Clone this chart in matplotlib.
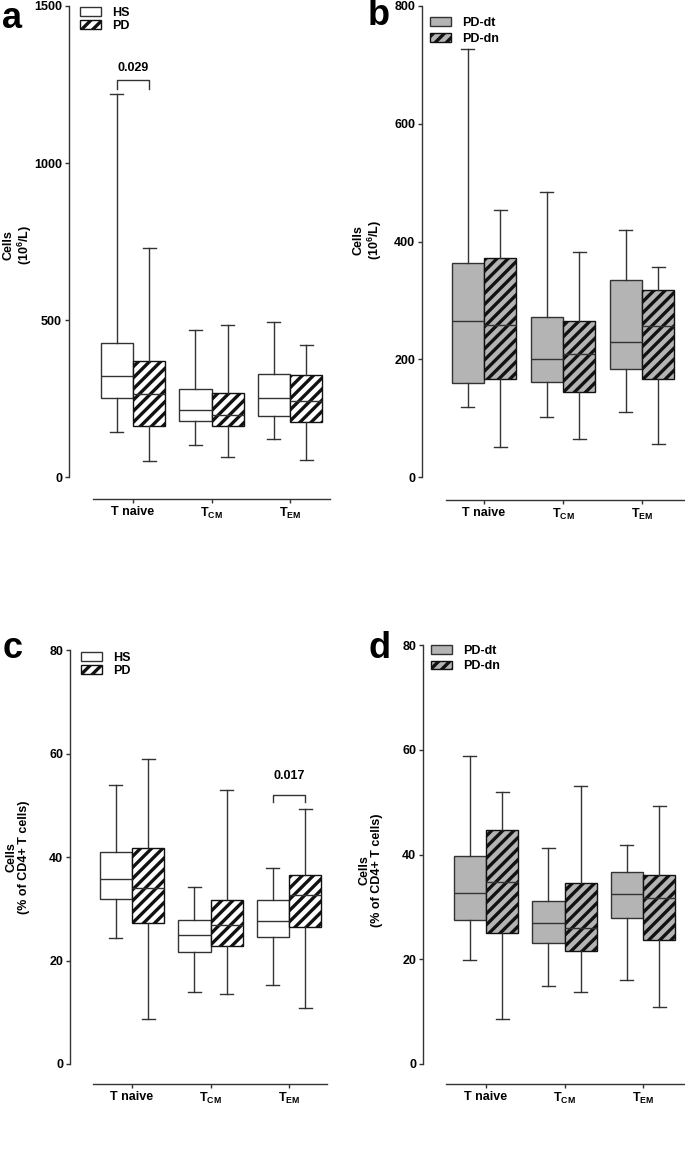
import matplotlib
matplotlib.use("Agg")
import matplotlib.pyplot as plt
from matplotlib.patches import Patch

plt.rcParams['font.family'] = ['Liberation Sans', 'DejaVu Sans']
plt.rcParams['font.weight'] = 'bold'
plt.rcParams['mathtext.fontset'] = 'custom'
plt.rcParams['mathtext.rm'] = 'Liberation Sans:bold'
plt.rcParams['mathtext.bf'] = 'Liberation Sans:bold'
plt.rcParams['mathtext.it'] = 'Liberation Sans:bold'
plt.rcParams['hatch.linewidth'] = 2.4

# --- Data: [whisker low, Q1, median, Q3, whisker high] per category ---
categories = ['T naive', r'$\mathbf{T_{CM}}$', r'$\mathbf{T_{EM}}$']

# panel a: absolute counts (10^6/L)
a_hs = [[142, 251, 322, 426, 1219], [102, 179, 213, 280, 469], [121, 194, 251, 328, 493]]
a_pd = [[50, 161, 265, 371, 728], [64, 161, 199, 269, 484], [55, 175, 243, 325, 420]]
# panel b: absolute counts, PD subgroups
b_dt = [[119, 159, 265, 364, 727], [102, 162, 200, 272, 484], [111, 184, 230, 335, 420]]
b_dn = [[51, 167, 258, 372, 454], [64, 145, 209, 265, 382], [56, 166, 257, 318, 356]]
# panel c: % of CD4+ T cells
c_hs = [[24.3, 31.9, 35.7, 40.9, 53.9], [13.9, 21.6, 25.0, 27.8, 34.2], [15.3, 24.5, 27.7, 31.7, 37.8]]
c_pd = [[8.6, 27.2, 34.0, 41.8, 58.9], [13.6, 22.8, 26.9, 31.7, 53.0], [10.9, 26.4, 32.6, 36.5, 49.3]]
# panel d: % of CD4+ T cells, PD subgroups
d_dt = [[19.9, 27.5, 32.7, 39.7, 58.9], [14.8, 23.1, 26.9, 31.1, 41.2], [16.0, 27.8, 32.5, 36.7, 41.8]]
d_dn = [[8.5, 25.0, 34.7, 44.7, 51.9], [13.7, 21.6, 26.0, 34.6, 53.0], [10.9, 23.6, 31.7, 36.0, 49.3]]

W, H = 685, 1168
fig = plt.figure(figsize=(W / 100, H / 100), dpi=100)

EDGE = '#333333'
HATCH_EDGE = '#111111'
GRAY = '#b4b4b4'
BW = 0.41  # box width in category units
HATCH = '///'


def stats(rows):
    return [dict(whislo=r[0], q1=r[1], med=r[2], q3=r[3], whishi=r[4]) for r in rows]


def make_panel(px, data1, data2, labels, face, ymax, ystep, letter, letter_xy,
               ylabel, ylabel_xy, leg_xy, leg_space, brackets):
    L, R, ticks, p0, p1, bot, spine_x = px
    s = (ticks[2] - ticks[0]) / 2
    top = p1 - 5
    ax = fig.add_axes([L / W, 1 - bot / H, (R - L) / W, (bot - top) / H])
    upp = ymax / (p0 - p1)
    ax.set_ylim(-(bot - p0) * upp, ymax + (p1 - top) * upp)
    ax.set_xlim((L - ticks[0]) / s, (R - ticks[0]) / s)

    pos = [0, 1, 2]
    for rows, off, hatch, ec in [(data1, -BW / 2, None, EDGE), (data2, BW / 2, HATCH, HATCH_EDGE)]:
        ax.bxp(stats(rows), positions=[p + off for p in pos], widths=BW,
               showfliers=False, patch_artist=True, capwidths=BW * 0.4,
               manage_ticks=False,
               boxprops=dict(facecolor=face, edgecolor=ec, linewidth=1.0, hatch=hatch),
               whiskerprops=dict(color=EDGE, linewidth=1.0),
               capprops=dict(color=EDGE, linewidth=1.0),
               medianprops=dict(color=EDGE, linewidth=1.0))

    for sp in ['top', 'right']:
        ax.spines[sp].set_visible(False)
    ax.spines['left'].set_bounds(0, ymax)
    ax.spines['bottom'].set_bounds(*spine_x)
    for sp in ['left', 'bottom']:
        ax.spines[sp].set_color(EDGE)
        ax.spines[sp].set_linewidth(1.0)
    ax.set_yticks(range(0, ymax + 1, ystep))
    ax.set_xticks(pos)
    ax.set_xticklabels(categories)
    ax.tick_params(axis='both', length=3, width=1.0, color=EDGE, labelsize=9, pad=2)
    for t in ax.get_yticklabels() + ax.get_xticklabels():
        t.set_fontweight('bold')

    # significance brackets
    for grp, y_top, y_leg, y_text, text in brackets:
        x1, x2 = grp - BW / 2, grp + BW / 2
        ax.plot([x1, x1, x2, x2], [y_leg, y_top, y_top, y_leg], color=EDGE, lw=1.0)
        ax.text(grp, y_text, text, ha='center', va='bottom',
                fontsize=9, fontweight='bold')

    handles = [Patch(facecolor=face, edgecolor=EDGE, linewidth=1.0),
               Patch(facecolor=face, edgecolor=HATCH_EDGE, linewidth=1.0, hatch=HATCH)]
    fig.legend(handles, labels, loc='upper left',
               bbox_to_anchor=(leg_xy[0] / W, 1 - leg_xy[1] / H), frameon=False,
               handlelength=1.7, handleheight=0.65, handletextpad=0.9,
               labelspacing=leg_space, borderpad=0, borderaxespad=0,
               prop=dict(weight='bold', size=9))

    fig.text(letter_xy[0] / W, 1 - letter_xy[1] / H, letter, fontsize=26,
             fontweight='bold', ha='left', va='baseline')
    fig.text(ylabel_xy[0] / W, 1 - ylabel_xy[1] / H, ylabel, rotation=90,
             ha='center', va='center', multialignment='center',
             fontsize=9, fontweight='bold', linespacing=1.1)
    return ax


make_panel((69, 336, (133, 211, 290), 477, 6, 499, (-0.51, 2.51)),
           a_hs, a_pd, ['HS', 'PD'], 'white', 1500, 500,
           'a', (2, 28), 'Cells\n(10$^{6}$/L)', (18, 245), (80, 7), 0.08,
           [(0, 1264, 1236, 1285, '0.029')])

make_panel((422, 684, (484, 563, 642), 477, 6, 500, (-0.48, 2.6)),
           b_dt, b_dn, ['PD-dt', 'PD-dn'], GRAY, 800, 200,
           'b', (368, 25), 'Cells\n(10$^{6}$/L)', (368, 240), (430, 17), 0.3,
           [])

make_panel((70, 336, (132, 210, 289), 1064, 650, 1084, (-0.5, 2.48)),
           c_hs, c_pd, ['HS', 'PD'], 'white', 80, 20,
           'c', (3, 658), 'Cells\n(% of CD4+ T cells)', (18, 857), (81, 652), 0.08,
           [(2, 51.9, 50.6, 54.4, '0.017')])

make_panel((423, 684, (486, 564, 643), 1064, 645, 1084, (-0.51, 2.6)),
           d_dt, d_dn, ['PD-dt', 'PD-dn'], GRAY, 80, 20,
           'd', (368, 658), 'Cells\n(% of CD4+ T cells)', (371, 870), (431, 645), 0.25,
           [])

fig.savefig('out.png', dpi=100)
